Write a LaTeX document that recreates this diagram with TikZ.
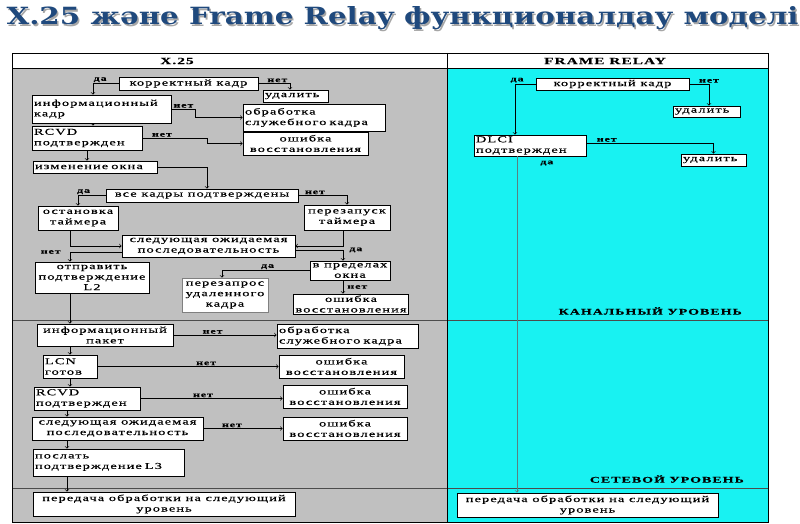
\documentclass[tikz,border=0pt]{standalone}
\usepackage{fontspec}
\setmainfont{Liberation Serif}
\newfontfamily\boxfont[FakeStretch=1.6,LetterSpace=12,FakeBold=0.4]{Liberation Serif}
\newfontfamily\titlefont{DejaVu Serif}
\usetikzlibrary{positioning, arrows}
\definecolor{panelgray}{RGB}{192,192,192}
\definecolor{frcyan}{RGB}{24,242,242}
\definecolor{titleblue}{RGB}{31,73,125}

\begin{document}
\begin{tikzpicture}[x=1pt,y=-1pt,>=to,
  box/.style={draw, fill=white, line width=0.8pt, inner xsep=2pt, inner ysep=1pt,
    font=\boxfont\fontsize{9}{10.5}\selectfont},
  cbx/.style n args={2}{box, minimum width=#1pt, minimum height=#2pt, align=center},
  lbx/.style n args={2}{box, text width=#1pt, minimum height=#2pt, align=left},
  lab/.style={font=\boxfont\bfseries\fontsize{7.5}{8}\selectfont, inner sep=1pt},
  hdr/.style={font=\boxfont\bfseries\fontsize{9.5}{10}\selectfont, inner sep=1pt},
  lay/.style={font=\boxfont\bfseries\fontsize{8.7}{9}\selectfont, inner sep=1pt},
  conn/.style={->, line width=0.7pt}]
  \useasboundingbox (0,0) rectangle (800,524);

  % title
  \node[anchor=base west, text=gray!70] (shadow) at (4.5,26.5)
    {\resizebox{792pt}{18pt}{\titlefont\bfseries X.25 және Frame Relay функционалдау моделі}};
  \node[anchor=base west, text=titleblue] (title) at (3,25)
    {\resizebox{792pt}{18pt}{\titlefont\bfseries X.25 және Frame Relay функционалдау моделі}};

  % panels
  \fill[panelgray] (12,68) rectangle (447,522);
  \fill[frcyan] (447,68) rectangle (768,522);
  \draw[gray!60!black] (12,320) -- (768,320) (12,488) -- (768,488);
  \draw[line width=0.8pt] (12,53) rectangle (768,522);
  \draw[line width=0.8pt] (447,53) -- (447,522) (12,68) -- (768,68);
  \node[hdr] (hx) at (177,61) {X.25};
  \node[hdr] (hfr) at (605,61) {FRAME RELAY};
  \node[lay, anchor=east] (kan) at (743,311) {КАНАЛЬНЫЙ УРОВЕНЬ};
  \node[lay, anchor=east] (setl) at (745,479) {СЕТЕВОЙ УРОВЕНЬ};

  % X.25
  \node[cbx={139}{13}] (korr) at (188.5,83.5) {корректный кадр};
  \node[lbx={61}{12}] (udal) at (295.5,96) {удалить};
  \node[lbx={135}{28}] (info) at (101.5,109) {информационный\\кадр};
  \node[lbx={138}{27}] (obr) at (314,117.5) {обработка\\служебного кадра};
  \node[lbx={106}{24}] (rcvd) at (87,138) {RCVD\\подтвержден};
  \node[cbx={125}{23}] (osh) at (305.5,143.5) {ошибка\\восстановления};
  \node[lbx={120}{12}] (izm) at (95,167) {изменение окна};
  \node[cbx={192}{13}] (vse) at (202,195.5) {все кадры подтверждены};
  \node[cbx={80}{24}] (ost) at (78,218) {остановка\\таймера};
  \node[cbx={86}{25}] (perez) at (347,217.5) {перезапуск\\таймера};
  \node[cbx={173}{22}] (sled) at (208.5,246) {следующая ожидаемая\\последовательность};
  \node[cbx={114}{31}] (otpr) at (92,277.5) {отправить\\подтверждение\\L2};
  \node[cbx={80}{19}] (vpred) at (350,270.5) {в пределах\\окна};
  \node[cbx={86}{34}, draw=gray] (zapr) at (225,295) {перезапрос\\удаленного\\кадра};
  \node[cbx={114}{20}] (osha) at (351,304) {ошибка\\восстановления};
  \node[cbx={136}{22}] (ipak) at (105,335) {информационный\\пакет};
  \node[lbx={137}{24}] (obrb) at (347.5,336) {обработка\\служебного кадра};
  \node[lbx={50}{23}] (lcn) at (70,366.5) {LCN\\готов};
  \node[cbx={125}{23}] (oshb) at (341.5,366.5) {ошибка\\восстановления};
  \node[lbx={102}{23}] (rcvdb) at (87,398.5) {RCVD\\подтвержден};
  \node[cbx={124}{23}] (oshc) at (345,396.5) {ошибка\\восстановления};
  \node[cbx={171}{23}] (sledb) at (117.5,428.5) {следующая ожидаемая\\последовательность};
  \node[cbx={124}{23}] (oshd) at (345,428.5) {ошибка\\восстановления};
  \node[lbx={147}{27}] (posl) at (108.5,462.5) {послать\\подтверждение L3};
  \node[cbx={262}{24}] (pera) at (164,504) {передача обработки на следующий\\уровень};

  % FRAME RELAY
  \node[cbx={153}{12}] (korrf) at (612.5,84) {корректный кадр};
  \node[lbx={63}{11}] (udalf) at (706.5,111.5) {удалить};
  \node[lbx={108}{21}] (dlci) at (530,145.5) {DLCI\\подтвержден};
  \node[lbx={61}{12}] (udalg) at (713.5,160) {удалить};
  \node[cbx={261}{24}] (perf) at (587.5,505) {передача обработки на следующий\\уровень};

  % X.25 connectors
  \draw[conn] (korr.west) -| node[lab, pos=.36, above] {да} ([xshift=-8.5pt]info.north);
  \draw[conn] (korr.east) -| node[lab, pos=.3, above] {нет} ([xshift=-5.5pt]udal.north);
  \draw[conn] (info.east) -- node[lab, above] {нет} ++(24,0) |- (obr.west);
  \draw[conn] ([xshift=-8.5pt]info.south) -- ([xshift=6pt]rcvd.north);
  \draw[conn] (rcvd.east) -- node[lab, pos=.3, above] {нет} ++(65,0) |- (osh.west);
  \draw[conn] (rcvd.south) -- (rcvd.south |- izm.north);
  \draw[conn] (izm.east) -| ([xshift=5pt]vse.north);
  \draw[conn] (vse.west) -| node[lab, pos=.4, above] {да} (ost.north);
  \draw[conn] (vse.east) -| node[lab, pos=.17, above] {нет} (perez.north);
  \draw[conn] ([xshift=-8pt]ost.south) |- (sled.west);
  \draw[conn] ([xshift=-4pt]perez.south) |- (sled.east);
  \draw[conn] ([yshift=-6pt]sled.west) -| node[lab, pos=.5, left=8pt] {нет} ([xshift=-22pt]otpr.north);
  \draw[conn] ([yshift=-4pt]sled.east) -| node[lab, pos=.5, right=5pt] {да} ([xshift=-7pt]vpred.north);
  \draw[conn] (vpred.west) -| node[lab, pos=.24, above] {да} ([xshift=-3pt]zapr.north);
  \draw[conn] ([xshift=-7pt]vpred.south) -- node[lab, right=3pt] {нет} ([xshift=-8pt]osha.north);
  \draw[conn] ([xshift=-22pt]otpr.south) -- ([xshift=-35pt]ipak.north);
  \draw[conn] (ipak.east) -- node[lab, pos=.38, above] {нет} (ipak.east -| obrb.west);
  \draw[conn] ([xshift=-35pt]ipak.south) -- (lcn.north);
  \draw[conn] (lcn.east) -- node[lab, pos=.6, above] {нет} (oshb.west);
  \draw[conn] (lcn.south) -- (lcn.south |- rcvdb.north);
  \draw[conn] (rcvdb.east) -- node[lab, pos=.44, above] {нет} (rcvdb.east -| oshc.west);
  \draw[conn] ([xshift=-20pt]rcvdb.south) -- ([xshift=-50.5pt]sledb.north);
  \draw[conn] (sledb.east) -- node[lab, pos=.36, above] {нет} (oshd.west);
  \draw[conn] ([xshift=-50.5pt]sledb.south) -- ([xshift=-41.5pt]posl.north);
  \draw[conn] ([xshift=-41.5pt]posl.south) -- ([xshift=-97pt]pera.north);

  % FRAME RELAY connectors
  \draw[conn] (korrf.west) -| node[lab, pos=.45, above] {да} ([xshift=-15pt]dlci.north);
  \draw[conn] (korrf.east) -| node[lab, pos=.5, above] {нет} ([xshift=2.5pt]udalf.north);
  \draw[conn] ([yshift=2.5pt]dlci.east) -| node[lab, pos=.08, above] {нет} (udalg.north);
  \draw[conn, gray!70!teal] ([xshift=-13pt]dlci.south) -- node[lab, pos=.02, right=22pt, text=black] {да} ([xshift=-70.5pt]perf.north);
\end{tikzpicture}
\end{document}
